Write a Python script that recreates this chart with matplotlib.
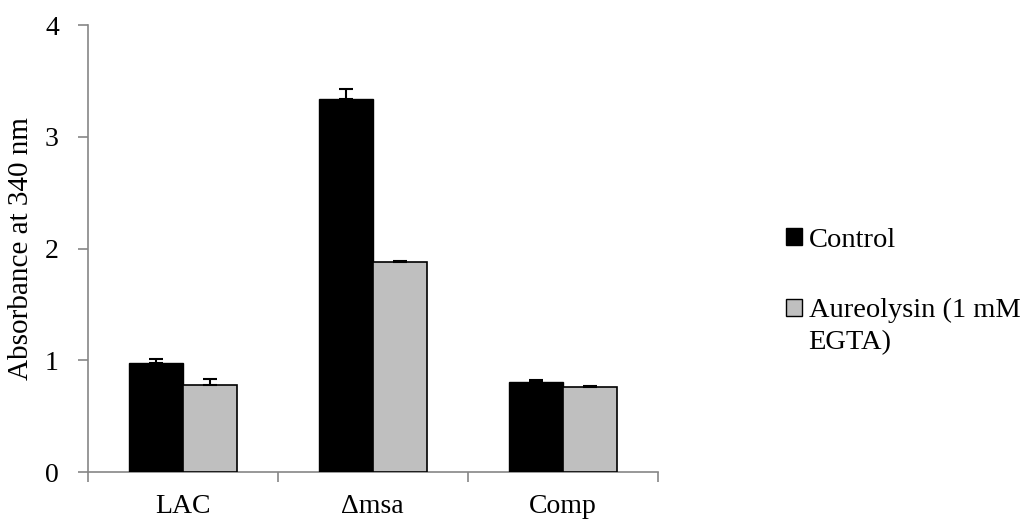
import numpy as np
import matplotlib
matplotlib.use("Agg")
import matplotlib.pyplot as plt
from matplotlib.patches import Patch

plt.rcParams['font.family'] = ['Liberation Serif', 'DejaVu Serif']

# data
strains = ["LAC", "\u0394msa", "Comp"]
control = [0.98, 3.34, 0.81]
control_err = [0.03, 0.09, 0.015]
aureolysin = [0.78, 1.875, 0.76]
aureolysin_err = [0.05, 0.01, 0.01]
y_ticks = [0, 1, 2, 3, 4]

axis_grey = "#868686"

fig = plt.figure(figsize=(10.30, 5.21), dpi=100)
ax = fig.add_axes([0.0854, 0.094, 0.553, 0.858])

x = np.arange(len(strains))
w = 0.284
ax.bar(x - w / 2, control, w, color="black", edgecolor="black", linewidth=1,
       yerr=[np.zeros(3), control_err], capsize=5,
       error_kw=dict(elinewidth=1.5, capthick=1.5, ecolor="black"), zorder=3)
ax.bar(x + w / 2, aureolysin, w, color="#bfbfbf", edgecolor="black", linewidth=1.2,
       yerr=[np.zeros(3), aureolysin_err], capsize=5,
       error_kw=dict(elinewidth=1.5, capthick=1.5, ecolor="black"), zorder=3)

ax.set_xlim(-0.5, len(strains) - 0.5)
ax.set_ylim(0, 4)
ax.set_yticks(y_ticks)
ax.set_xticks(x)
ax.set_xticklabels(strains)
# category boundary ticks like Excel
ax.set_xticks(np.arange(-0.5, len(strains)), minor=True)
ax.tick_params(axis="x", which="major", length=0, pad=16, labelsize=20)
ax.tick_params(axis="x", which="minor", length=7, color=axis_grey, width=1.2)
ax.tick_params(axis="y", length=7, color=axis_grey, width=1.2, pad=14, labelsize=20)

for side in ["top", "right"]:
    ax.spines[side].set_visible(False)
for side in ["left", "bottom"]:
    ax.spines[side].set_color(axis_grey)
    ax.spines[side].set_linewidth(1.2)

ax.set_ylabel("Absorbance at 340 nm", fontsize=21, labelpad=8)

handles = [Patch(facecolor="black", edgecolor="black"),
           Patch(facecolor="#bfbfbf", edgecolor="black")]
fig.legend(handles, ["Control", "Aureolysin (1 mM"], loc="upper left",
           bbox_to_anchor=(0.752, 0.585), frameon=False, fontsize=20.5,
           handlelength=0.55, handleheight=0.55, handletextpad=0.25,
           labelspacing=1.6, borderaxespad=0)
fig.text(0.7845, 1 - 343 / 521, "EGTA)", fontsize=20.5, va="center", ha="left")

fig.savefig("out.png", dpi=100)
